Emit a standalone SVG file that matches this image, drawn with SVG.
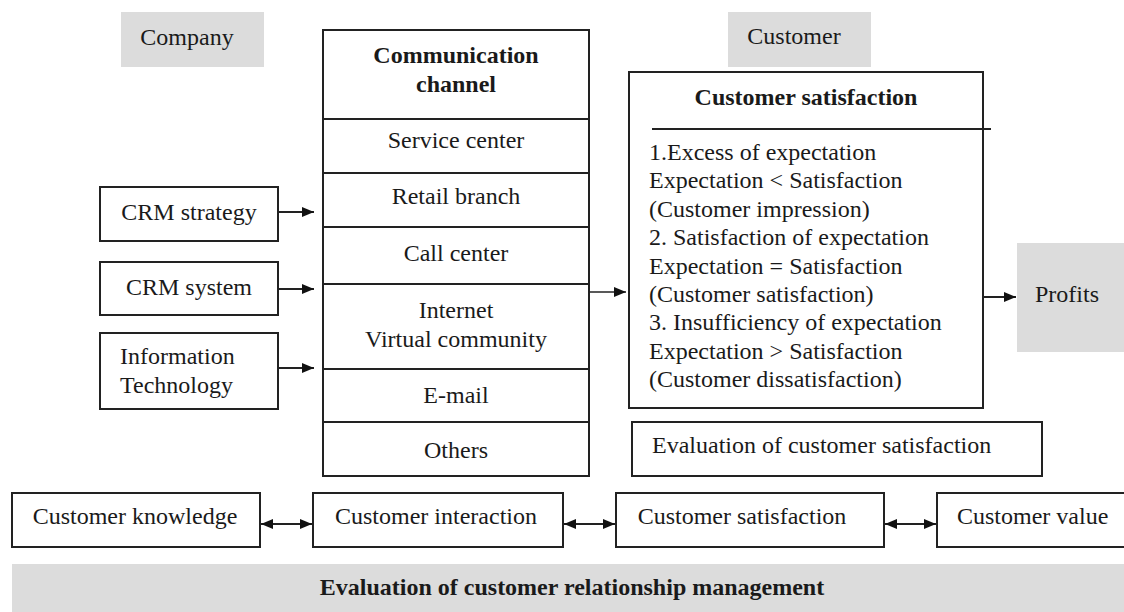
<svg xmlns="http://www.w3.org/2000/svg" width="1124" height="612" viewBox="0 0 1124 612" font-family="'Liberation Serif', 'Times New Roman', Tinos, serif" font-size="24">
<style>
text{font-family:'Liberation Serif','Times New Roman',Tinos,serif;font-size:24px;fill:#1a1a1a}
.b{font-weight:bold}
.m{text-anchor:middle}
.box{fill:#fff;stroke:#222;stroke-width:2}
.grey{fill:#dcdcdc;stroke:none}
.ln{stroke:#222;stroke-width:2;fill:none}
.thin{stroke:#222;stroke-width:1.3;fill:none}
</style>
<defs>
<marker id="ah" markerUnits="userSpaceOnUse" viewBox="0 0 12 12" refX="12" refY="6" markerWidth="12" markerHeight="12" orient="auto-start-reverse">
<path d="M0,1 L12,6 L0,11 Z" fill="#111"/>
</marker>
</defs>
<rect width="1124" height="612" fill="#fff"/>
<g id="company"><rect class="grey" x="121" y="12" width="143" height="55"/><text class="m" x="187" y="45">Company</text></g>
<g id="customer"><rect class="grey" x="728" y="12" width="143" height="55"/><text class="m" x="794" y="44">Customer</text></g>
<g id="channel">
<rect class="box" x="323" y="30" width="266" height="446"/>
<path class="ln" d="M323,119H589M323,173H589M323,227H589M323,284H589M323,369H589M323,422H589"/>
<text class="b m" x="456" y="63">Communication</text>
<text class="b m" x="456" y="92">channel</text>
<text class="m" x="456" y="148">Service center</text>
<text class="m" x="456" y="204">Retail branch</text>
<text class="m" x="456" y="261">Call center</text>
<text class="m" x="456" y="318">Internet</text>
<text class="m" x="456" y="347">Virtual community</text>
<text class="m" x="456" y="403">E-mail</text>
<text class="m" x="456" y="458">Others</text>
</g>
<g id="crm-strategy"><rect class="box" x="100" y="187" width="178" height="54"/><text class="m" x="189" y="220">CRM strategy</text></g>
<g id="crm-system"><rect class="box" x="100" y="262" width="178" height="53"/><text class="m" x="189" y="295">CRM system</text></g>
<g id="info-tech"><rect class="box" x="100" y="333" width="178" height="76"/><text x="120" y="364">Information</text><text x="120" y="393">Technology</text></g>
<g id="cust-sat">
<rect class="box" x="629" y="72" width="354" height="336"/>
<path class="ln" d="M652,129H991"/>
<text class="b m" x="806" y="105">Customer satisfaction</text>
<text x="649" y="160">1.Excess of expectation</text>
<text x="649" y="188.4">Expectation &lt; Satisfaction</text>
<text x="649" y="216.8">(Customer impression)</text>
<text x="649" y="245.2">2. Satisfaction of expectation</text>
<text x="649" y="273.6">Expectation = Satisfaction</text>
<text x="649" y="302">(Customer satisfaction)</text>
<text x="649" y="330.4">3. Insufficiency of expectation</text>
<text x="649" y="358.8">Expectation &gt; Satisfaction</text>
<text x="649" y="387.2">(Customer dissatisfaction)</text>
</g>
<g id="profits"><rect class="grey" x="1017" y="243" width="120" height="109"/><text class="m" x="1067" y="302">Profits</text></g>
<g id="eval-sat"><rect class="box" x="632" y="422" width="410" height="54"/><text x="652" y="453">Evaluation of customer satisfaction</text></g>
<g id="cust-knowledge"><rect class="box" x="12" y="493" width="248" height="54"/><text class="m" x="135" y="524">Customer knowledge</text></g>
<g id="cust-interaction"><rect class="box" x="313" y="493" width="250" height="54"/><text class="m" x="436" y="524">Customer interaction</text></g>
<g id="cust-satisfaction"><rect class="box" x="616" y="493" width="268" height="54"/><text class="m" x="742" y="524">Customer satisfaction</text></g>
<g id="cust-value"><rect class="box" x="937" y="493" width="200" height="54"/><text x="957" y="524">Customer value</text></g>
<g id="eval-crm"><rect class="grey" x="12" y="564" width="1120" height="60"/><text class="b m" x="572" y="595">Evaluation of customer relationship management</text></g>
<g id="connectors">
<path class="ln" d="M278,212H314" marker-end="url(#ah)"/>
<path class="ln" d="M278,289H314" marker-end="url(#ah)"/>
<path class="ln" d="M278,368H314" marker-end="url(#ah)"/>
<path class="thin" d="M589,292H626" marker-end="url(#ah)"/>
<path class="ln" d="M983,297H1016" marker-end="url(#ah)"/>
<path class="ln" d="M261,524H312" marker-start="url(#ah)" marker-end="url(#ah)"/>
<path class="ln" d="M564,524H615" marker-start="url(#ah)" marker-end="url(#ah)"/>
<path class="ln" d="M885,524H936" marker-start="url(#ah)" marker-end="url(#ah)"/>
</g>
</svg>
